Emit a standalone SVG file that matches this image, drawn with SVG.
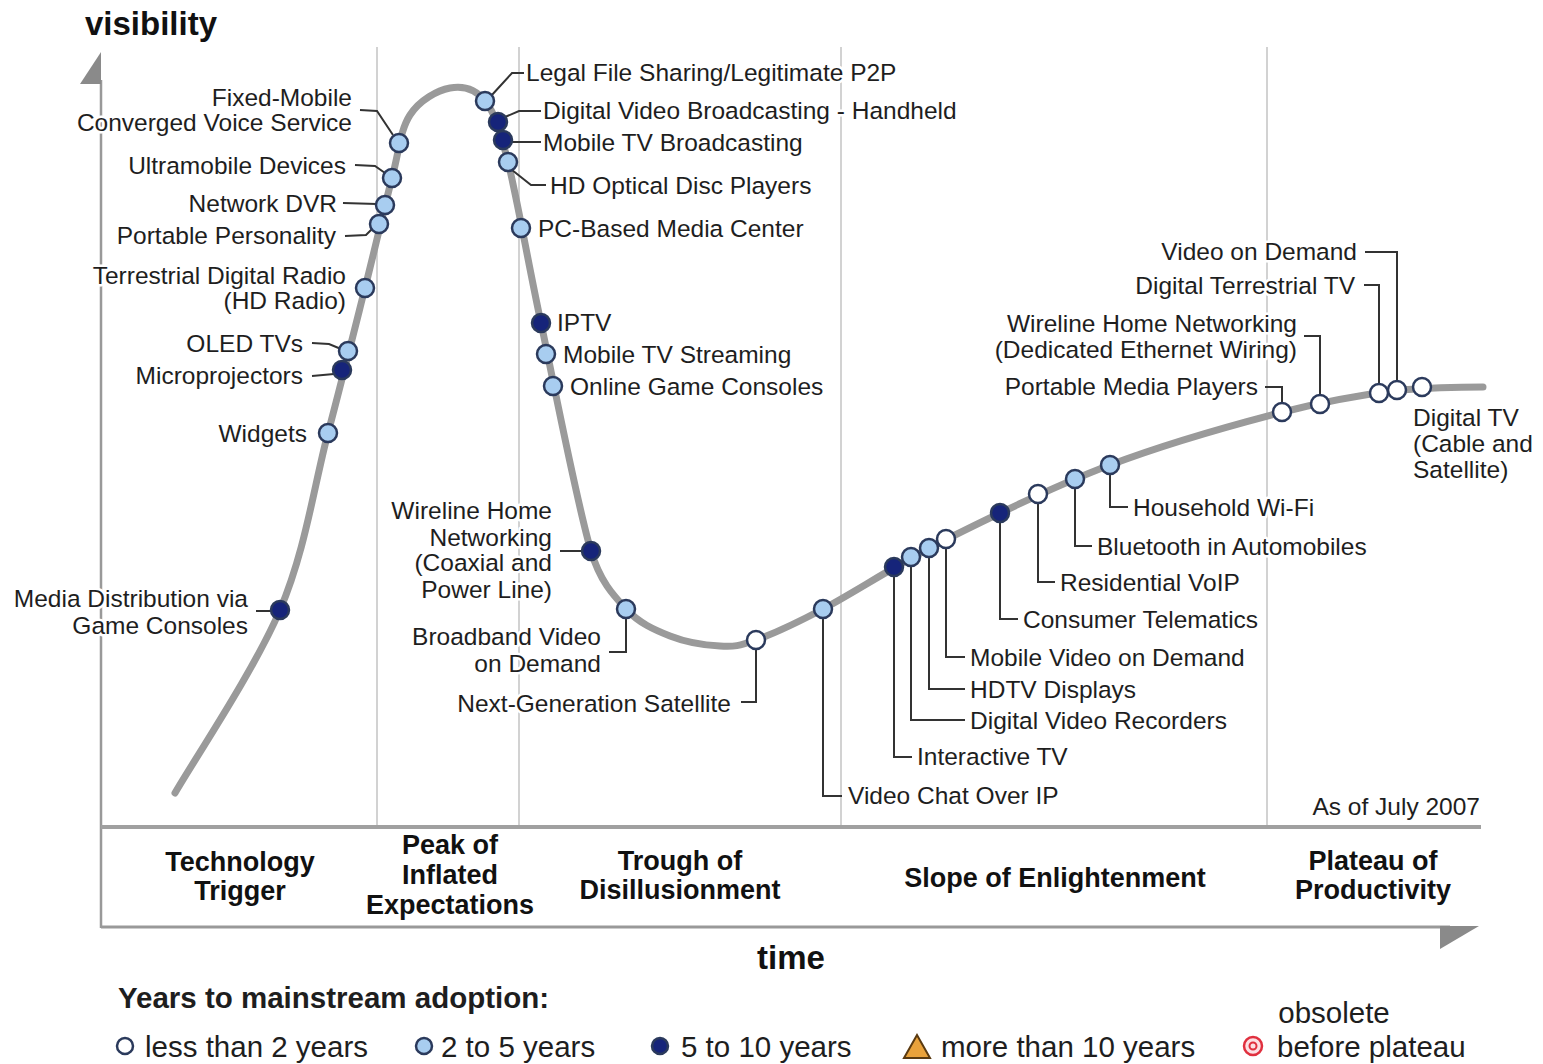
<svg xmlns="http://www.w3.org/2000/svg" width="1543" height="1064" viewBox="0 0 1543 1064">
<style>
text{font-family:"Liberation Sans",Arial,Helvetica,sans-serif;fill:#1e1e1e}
.lbl{font-size:24.5px;paint-order:stroke;stroke:#fff;stroke-width:5px;stroke-linejoin:round}
.r{text-anchor:end}
.ph{font-size:27px;font-weight:bold;text-anchor:middle;fill:#111}
.ax{font-size:33px;font-weight:bold;fill:#111}
.lg{font-size:29.5px}
.dot{stroke:#2b3a5c;stroke-width:2.5}
.w{fill:#ffffff}.lb{fill:#a8cdf0}.nv{fill:#16247a}
.ld{fill:none;stroke:#333;stroke-width:2}
.grid{stroke:#d2d2d2;stroke-width:2}
</style>
<rect width="1543" height="1064" fill="#fff"/>
<g id="frame">
<line class="grid" x1="377" y1="47" x2="377" y2="827"/>
<line class="grid" x1="519" y1="47" x2="519" y2="827"/>
<line class="grid" x1="841" y1="47" x2="841" y2="827"/>
<line class="grid" x1="1267" y1="47" x2="1267" y2="827"/>
<line x1="101" y1="80" x2="101" y2="928" stroke="#999" stroke-width="2.5"/>
<polygon points="101,52 80,84 101,84" fill="#8a8a8a"/>
<line x1="101" y1="827" x2="1481" y2="827" stroke="#a0a0a0" stroke-width="4"/>
<line x1="101" y1="927" x2="1450" y2="927" stroke="#999" stroke-width="3"/>
<polygon points="1440,926 1479,926 1440,949" fill="#8a8a8a"/>
</g>
<path id="hype-curve" d="M175,793 C192.5,762.5 254.5,670 280,610 C305.5,550 313.8,486.7 328,433 C342.2,379.3 354.3,330.5 365,288 C375.7,245.5 384.5,206.8 392,178 C399.5,149.2 400.3,130 410,115 C419.7,100 437.5,90.3 450,88 C462.5,85.7 475.3,88.7 485,101 C494.7,113.3 498.7,125 508,162 C517.3,199 527.2,258.2 541,323 C554.8,387.8 576.8,503.3 591,551 C600,581 612.8,594.8 626,609 C639.2,623.2 654.3,629.8 670,636 C685.7,642.2 705.7,645.3 720,646 C734.3,646.7 738.8,646.2 756,640 C773.2,633.8 791.5,625.7 823,609 C854.5,592.3 897.2,564 945,540 C992.8,516 1053.7,486.3 1110,465 C1166.3,443.7 1234.7,424.5 1283,412 C1331.3,399.5 1366.7,394.2 1400,390 C1433,387.5 1469,387 1483,387" fill="none" stroke="#9a9a9a" stroke-width="7" stroke-linecap="round"/>
<g id="connectors" class="ld">
<path d="M360,110 L377,111 L393,135"/>
<path d="M355,165 L375,166 L385,173"/>
<path d="M343,203 L377,204"/>
<path d="M345,236 L366,235 L372,229"/>
<path d="M312,343 L329,344 L341,349"/>
<path d="M312,376 L334,374"/>
<path d="M256,611 L271,611"/>
<path d="M524,73 L512,73 L491,96"/>
<path d="M541,111 L519,111 L505,117"/>
<path d="M541,142 L511,142"/>
<path d="M512,170 L531,185 L546,185"/>
<path d="M560,551 L583,551"/>
<path d="M626,618 V652 H609"/>
<path d="M756,649 V702 H741"/>
<path d="M823,618 V796 H842"/>
<path d="M894,576 V757 H912"/>
<path d="M911,566 V720 H965"/>
<path d="M929,557 V689 H965"/>
<path d="M946,548 V657 H965"/>
<path d="M1000,522 V619 H1018"/>
<path d="M1038,503 V582 H1055"/>
<path d="M1075,488 V546 H1092"/>
<path d="M1110,474 V507 H1128"/>
<path d="M1265,387 H1282 V403"/>
<path d="M1304,336 H1320 V395"/>
<path d="M1364,285 H1379 V384"/>
<path d="M1365,252 H1397 V381"/>
</g>
<g id="n-fmc"><circle class="dot lb" cx="399" cy="143" r="9"/><text class="lbl r" x="352" y="106">Fixed-Mobile</text><text class="lbl r" x="352" y="131">Converged Voice Service</text></g>
<g id="n-ultramobile"><circle class="dot lb" cx="392" cy="178" r="9"/><text class="lbl r" x="346" y="174">Ultramobile Devices</text></g>
<g id="n-ndvr"><circle class="dot lb" cx="385" cy="205" r="9"/><text class="lbl r" x="337" y="212">Network DVR</text></g>
<g id="n-portable-personality"><circle class="dot lb" cx="379" cy="224" r="9"/><text class="lbl r" x="336" y="244">Portable Personality</text></g>
<g id="n-hd-radio"><circle class="dot lb" cx="365" cy="288" r="9"/><text class="lbl r" x="346" y="284">Terrestrial Digital Radio</text><text class="lbl r" x="346" y="309">(HD Radio)</text></g>
<g id="n-oled"><circle class="dot lb" cx="348" cy="351" r="9"/><text class="lbl r" x="303" y="352">OLED TVs</text></g>
<g id="n-micro"><circle class="dot nv" cx="342" cy="370" r="9"/><text class="lbl r" x="303" y="384">Microprojectors</text></g>
<g id="n-widgets"><circle class="dot lb" cx="328" cy="433" r="9"/><text class="lbl r" x="307" y="442">Widgets</text></g>
<g id="n-media-dist"><circle class="dot nv" cx="280" cy="610" r="9"/><text class="lbl r" x="248" y="607">Media Distribution via</text><text class="lbl r" x="248" y="634">Game Consoles</text></g>
<g id="n-legal-p2p"><circle class="dot lb" cx="485" cy="101" r="9"/><text class="lbl" x="526" y="81">Legal File Sharing/Legitimate P2P</text></g>
<g id="n-dvbh"><circle class="dot nv" cx="498" cy="122" r="9"/><text class="lbl" x="543" y="119">Digital Video Broadcasting - Handheld</text></g>
<g id="n-mobile-tv-bc"><circle class="dot nv" cx="503" cy="140" r="9"/><text class="lbl" x="543" y="151">Mobile TV Broadcasting</text></g>
<g id="n-hd-optical"><circle class="dot lb" cx="508" cy="162" r="9"/><text class="lbl" x="550" y="194">HD Optical Disc Players</text></g>
<g id="n-pc-media"><circle class="dot lb" cx="521" cy="228" r="9"/><text class="lbl" x="538" y="237">PC-Based Media Center</text></g>
<g id="n-iptv"><circle class="dot nv" cx="541" cy="323" r="9"/><text class="lbl" x="557" y="331">IPTV</text></g>
<g id="n-mobile-tv-str"><circle class="dot lb" cx="546" cy="354" r="9"/><text class="lbl" x="563" y="363">Mobile TV Streaming</text></g>
<g id="n-online-game"><circle class="dot lb" cx="553" cy="386" r="9"/><text class="lbl" x="570" y="395">Online Game Consoles</text></g>
<g id="n-wireline-coax"><circle class="dot nv" cx="591" cy="551" r="9"/><text class="lbl r" x="552" y="519">Wireline Home</text><text class="lbl r" x="552" y="546">Networking</text><text class="lbl r" x="552" y="571">(Coaxial and</text><text class="lbl r" x="552" y="598">Power Line)</text></g>
<g id="n-broadband-vod"><circle class="dot lb" cx="626" cy="609" r="9"/><text class="lbl r" x="601" y="645">Broadband Video</text><text class="lbl r" x="601" y="672">on Demand</text></g>
<g id="n-nextgen-sat"><circle class="dot w" cx="756" cy="640" r="9"/><text class="lbl r" x="731" y="712">Next-Generation Satellite</text></g>
<g id="n-video-chat"><circle class="dot lb" cx="823" cy="609" r="9"/><text class="lbl" x="848" y="804">Video Chat Over IP</text></g>
<g id="n-interactive-tv"><circle class="dot nv" cx="894" cy="567" r="9"/><text class="lbl" x="917" y="765">Interactive TV</text></g>
<g id="n-dvr"><circle class="dot lb" cx="911" cy="557" r="9"/><text class="lbl" x="970" y="729">Digital Video Recorders</text></g>
<g id="n-hdtv"><circle class="dot lb" cx="929" cy="548" r="9"/><text class="lbl" x="970" y="698">HDTV Displays</text></g>
<g id="n-mobile-vod"><circle class="dot w" cx="946" cy="539" r="9"/><text class="lbl" x="970" y="666">Mobile Video on Demand</text></g>
<g id="n-telematics"><circle class="dot nv" cx="1000" cy="513" r="9"/><text class="lbl" x="1023" y="628">Consumer Telematics</text></g>
<g id="n-voip"><circle class="dot w" cx="1038" cy="494" r="9"/><text class="lbl" x="1060" y="591">Residential VoIP</text></g>
<g id="n-bluetooth"><circle class="dot lb" cx="1075" cy="479" r="9"/><text class="lbl" x="1097" y="555">Bluetooth in Automobiles</text></g>
<g id="n-wifi"><circle class="dot lb" cx="1110" cy="465" r="9"/><text class="lbl" x="1133" y="516">Household Wi-Fi</text></g>
<g id="n-pmp"><circle class="dot w" cx="1282" cy="412" r="9"/><text class="lbl r" x="1258" y="395">Portable Media Players</text></g>
<g id="n-wireline-eth"><circle class="dot w" cx="1320" cy="404" r="9"/><text class="lbl r" x="1297" y="332">Wireline Home Networking</text><text class="lbl r" x="1297" y="358">(Dedicated Ethernet Wiring)</text></g>
<g id="n-dtt"><circle class="dot w" cx="1379" cy="393" r="9"/><text class="lbl r" x="1355" y="294">Digital Terrestrial TV</text></g>
<g id="n-vod"><circle class="dot w" cx="1397" cy="390" r="9"/><text class="lbl r" x="1357" y="260">Video on Demand</text></g>
<g id="n-digital-tv"><circle class="dot w" cx="1422" cy="387" r="9"/><text class="lbl" x="1413" y="426">Digital TV</text><text class="lbl" x="1413" y="452">(Cable and</text><text class="lbl" x="1413" y="478">Satellite)</text></g>
<g id="labels">
<text class="ax" x="85" y="35">visibility</text>
<text class="ax" x="791" y="969" text-anchor="middle">time</text>
<text class="lbl r" x="1480" y="815">As of July 2007</text>
<text class="ph" x="240" y="871">Technology</text><text class="ph" x="240" y="900">Trigger</text>
<text class="ph" x="450" y="854">Peak of</text><text class="ph" x="450" y="884">Inflated</text><text class="ph" x="450" y="914">Expectations</text>
<text class="ph" x="680" y="870">Trough of</text><text class="ph" x="680" y="899">Disillusionment</text>
<text class="ph" x="1055" y="887">Slope of Enlightenment</text>
<text class="ph" x="1373" y="870">Plateau of</text><text class="ph" x="1373" y="899">Productivity</text>
</g>
<g id="legend">
<text class="lg" x="118" y="1008" font-weight="bold" fill="#111">Years to mainstream adoption:</text>
<circle class="dot w" cx="125" cy="1046" r="8" stroke="#333"/>
<text class="lg" x="145" y="1057">less than 2 years</text>
<circle class="dot lb" cx="424" cy="1046" r="8"/>
<text class="lg" x="441" y="1057">2 to 5 years</text>
<circle class="dot nv" cx="660" cy="1046" r="8"/>
<text class="lg" x="681" y="1057">5 to 10 years</text>
<polygon points="917,1035 904,1058 930,1058" fill="#e9a23b" stroke="#5a3a10" stroke-width="2"/>
<text class="lg" x="941" y="1057">more than 10 years</text>
<circle cx="1253" cy="1046" r="9" fill="#fde0e4" stroke="#e0303f" stroke-width="2.5"/>
<circle cx="1253" cy="1046" r="3.5" fill="#fde0e4" stroke="#e0303f" stroke-width="2"/>
<text class="lg" x="1334" y="1023" text-anchor="middle">obsolete</text>
<text class="lg" x="1277" y="1057">before plateau</text>
</g>
</svg>
